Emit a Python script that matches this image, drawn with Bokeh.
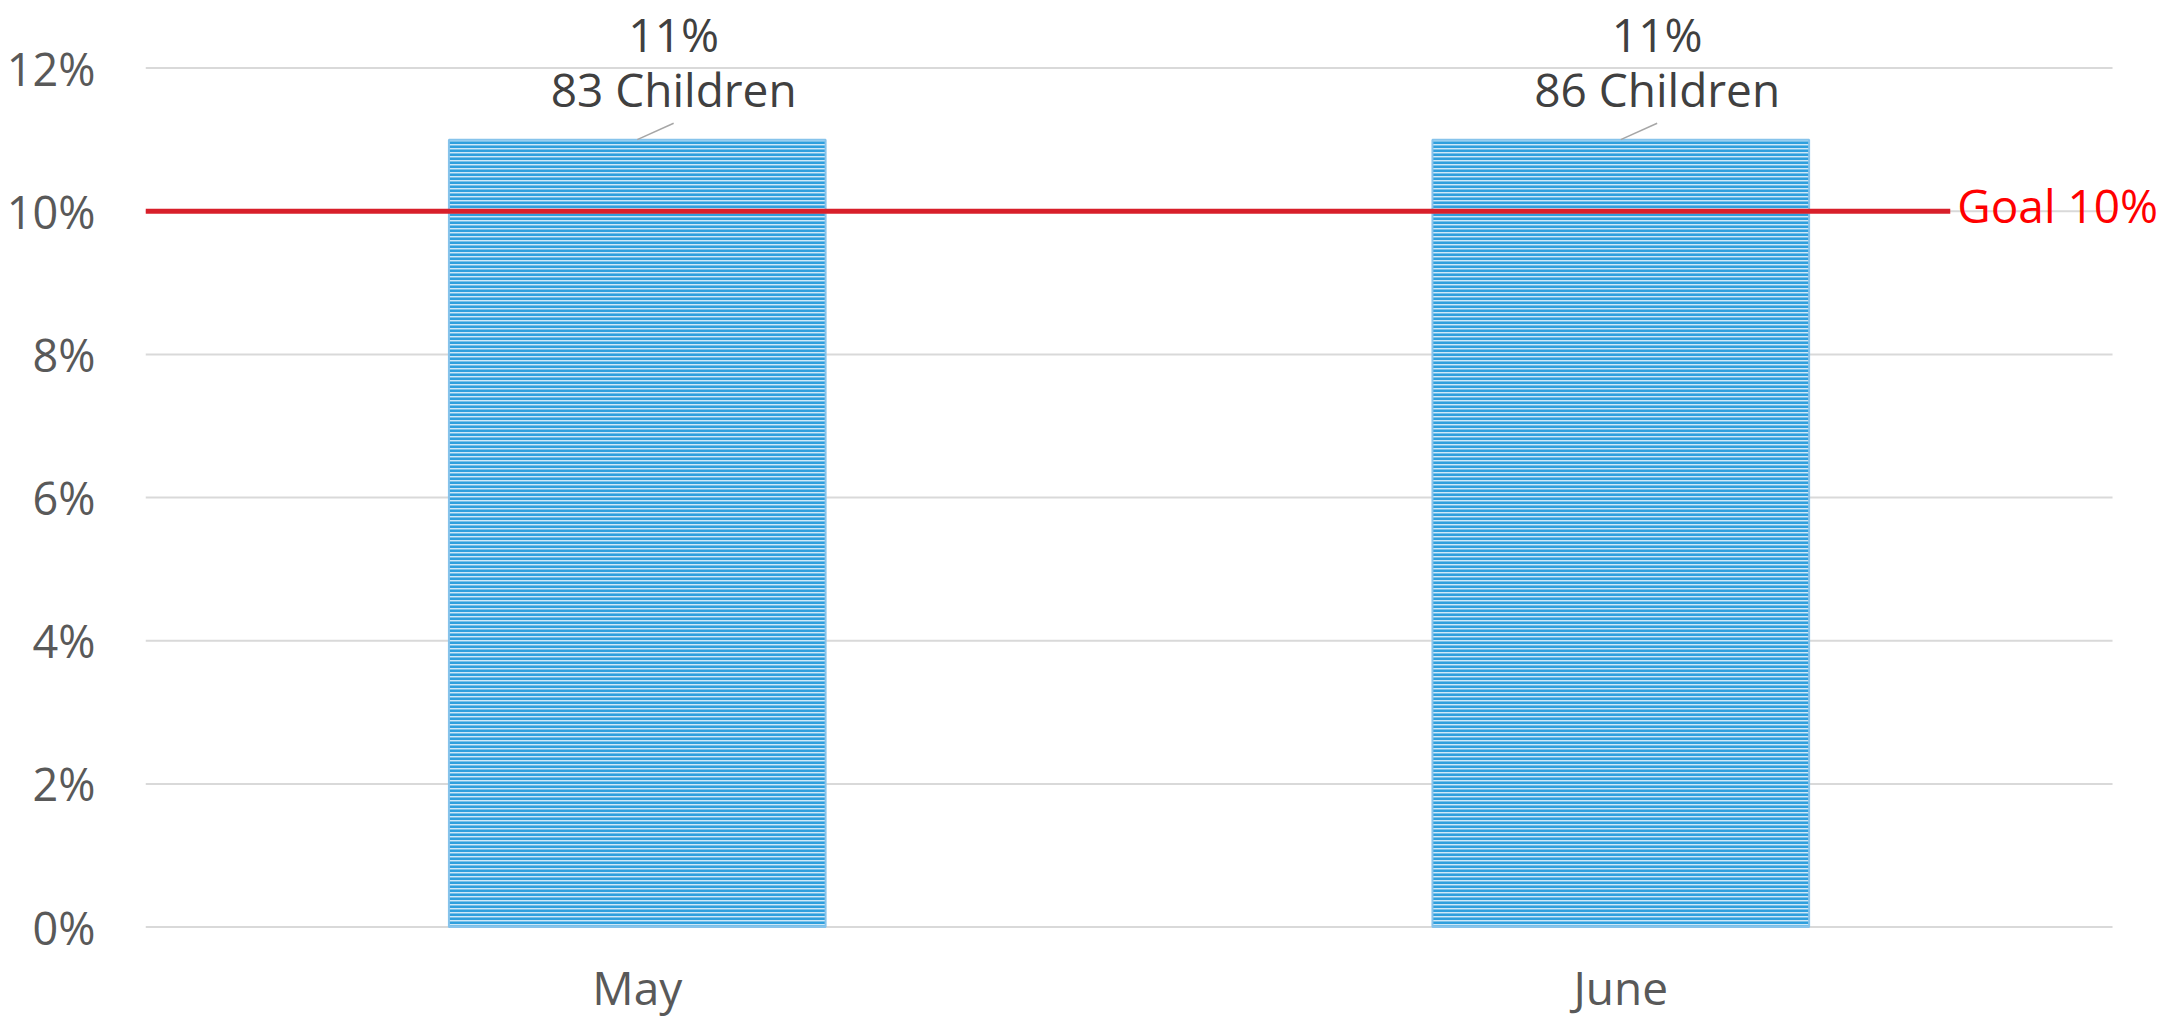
from bokeh.plotting import figure
from bokeh.models import ColumnDataSource, FixedTicker, NumeralTickFormatter, Label, Range1d
from bokeh.core.properties import value
from bokeh.embed import file_html
from bokeh.resources import INLINE

months = ["May", "June"]
rates = [0.11, 0.11]
children = [83, 86]
goal = 0.10
goal_label = "Goal 10%"
y_ticks = [0, 0.02, 0.04, 0.06, 0.08, 0.10, 0.12]

FONT = "Open Sans"
LABEL_DX = 0.037      # data label shift to the right, in category units
LEADER_DY = 0.0023    # leader line rise, in data units
GOAL_END = 0.335      # goal line end offset past the last category centre

n = len(months)
xs = [i + 0.5 for i in range(n)]

p = figure(x_range=Range1d(0, 2.0508), y_range=Range1d(-0.013467, 0.129444),
           width=2162, height=1023,
           output_backend="svg", toolbar_location=None,
           min_border_left=145, min_border_right=0, min_border_top=0, min_border_bottom=0)
p.outline_line_color = None
p.background_fill_color = "white"
p.border_fill_color = "white"
p.xaxis.visible = False
p.xgrid.grid_line_color = None
p.ygrid.grid_line_color = None

yax = p.yaxis[0]
yax.axis_line_color = None
yax.major_tick_line_color = None
yax.minor_tick_line_color = None
yax.major_label_text_font = FONT
yax.major_label_text_font_size = "45px"
yax.major_label_text_color = "#595959"
yax.ticker = FixedTicker(ticks=y_ticks)
yax.formatter = NumeralTickFormatter(format="0%")
yax.major_label_standoff = 44

# horizontal gridlines over the category span
grid = ColumnDataSource(dict(x0=[0] * len(y_ticks), x1=[n] * len(y_ticks), y=y_ticks))
p.segment(x0="x0", y0="y", x1="x1", y1="y", source=grid, line_color="#D9D9D9", line_width=2)

# bars
src = ColumnDataSource(dict(
    x=xs, top=rates, month=months,
    lx=[x + LABEL_DX for x in xs],
    ly=[r + LEADER_DY for r in rates],
    zero=[0] * n,
    pct=[f"{round(r*100)}%" for r in rates],
    kids=[f"{c} Children" for c in children],
))
p.vbar(x="x", top="top", width=0.383, source=src,
       fill_color="#CFE8F8", hatch_pattern="horizontal_line", hatch_color="#2F9FDD",
       hatch_scale=4, hatch_weight=3.1, line_color="#86C3EB", line_width=2)

# category labels
p.text(x="x", y="zero", text="month", source=src, y_offset=60,
       text_font=value(FONT), text_font_size="46px", text_color="#595959",
       text_align="center", text_baseline="alphabetic")

# goal line
gsrc = ColumnDataSource(dict(x0=[0], x1=[xs[-1] + GOAL_END], y=[goal]))
p.segment(x0="x0", y0="y", x1="x1", y1="y", source=gsrc, line_color="#D81F2A", line_width=5)
p.add_layout(Label(x=xs[-1] + GOAL_END, y=goal, x_offset=7, y_offset=6, text=goal_label,
                   text_font=FONT, text_font_size="46px", text_color="#FF0000",
                   text_baseline="middle", text_align="left"))

# leader lines
p.segment(x0="x", y0="top", x1="lx", y1="ly", source=src, line_color="#A6A6A6", line_width=1.5)

# data labels
p.text(x="lx", y="top", text="kids", source=src, y_offset=-51,
       text_font=value(FONT), text_font_size="46px", text_color="#404040",
       text_align="center", text_baseline="alphabetic")
p.text(x="lx", y="top", text="pct", source=src, y_offset=-106,
       text_font=value(FONT), text_font_size="46px", text_color="#404040",
       text_align="center", text_baseline="alphabetic")

open("out.html", "w").write(file_html(p, INLINE))
